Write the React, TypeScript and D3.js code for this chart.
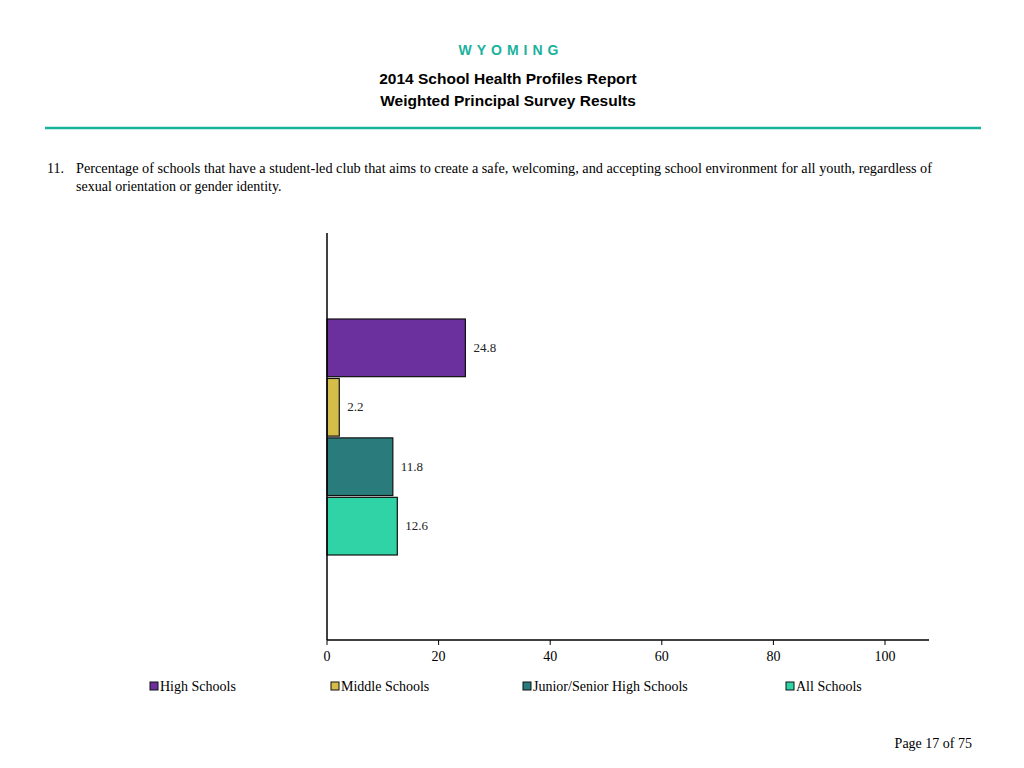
import React from "react";
import * as d3 from "d3";

const categories = ["High Schools", "Middle Schools", "Junior/Senior High Schools", "All Schools"];
const values = [24.8, 2.2, 11.8, 12.6];
const colors = ["#6b2f9e", "#d4bd48", "#2a7b7b", "#2fd3a6"];
const ticks = [0, 20, 40, 60, 80, 100];
const legendX = [150, 331, 523, 786];

export default function App() {
  const x = d3.scaleLinear().domain([0, 100]).range([327, 885]);
  const y = d3.scaleBand<string>().domain(categories).range([319, 555]).paddingInner(0.03);
  const serif = "'Liberation Serif', 'Times New Roman', serif";
  const sans = "'Liberation Sans', Arial, sans-serif";
  return (
    <svg width={1024} height={768} style={{ position: "absolute", left: 0, top: 0, background: "#fff" }}>
      <text x={511} y={55} textAnchor="middle" fill="#19b29c" fontFamily={sans} fontWeight="bold" fontSize={14} letterSpacing={5}>WYOMING</text>
      <text x={508} y={84} textAnchor="middle" fontFamily={sans} fontWeight="bold" fontSize={15.5}>2014 School Health Profiles Report</text>
      <text x={508} y={106} textAnchor="middle" fontFamily={sans} fontWeight="bold" fontSize={15.5}>Weighted Principal Survey Results</text>
      <line x1={45} x2={981} y1={128} y2={128} stroke="#19b29c" strokeWidth={2.5} />
      <text x={47} y={173} fontFamily={serif} fontSize={14}>11.</text>
      <text x={76} y={173} fontFamily={serif} fontSize={14} textLength={856} lengthAdjust="spacingAndGlyphs">Percentage of schools that have a student-led club that aims to create a safe, welcoming, and accepting school environment for all youth, regardless of</text>
      <text x={76} y={191} fontFamily={serif} fontSize={14}>sexual orientation or gender identity.</text>

      {categories.map((c, i) => (
        <g key={c}>
          <rect x={x(0)} y={y(c)!} width={x(values[i]) - x(0)} height={y.bandwidth()} fill={colors[i]} stroke="#111" strokeWidth={1.2} />
          <text x={x(values[i]) + 8} y={y(c)! + y.bandwidth() / 2 + 4} fontFamily={serif} fontSize={13} fill="#222">{values[i]}</text>
        </g>
      ))}

      <line x1={327} x2={327} y1={233} y2={640} stroke="#000" strokeWidth={1.5} />
      <line x1={327} x2={929} y1={640} y2={640} stroke="#000" strokeWidth={1.5} />
      {ticks.map((t) => (
        <g key={t}>
          <line x1={x(t)} x2={x(t)} y1={640} y2={645} stroke="#000" />
          <text x={x(t)} y={661} textAnchor="middle" fontFamily={serif} fontSize={14}>{t}</text>
        </g>
      ))}

      {categories.map((c, i) => (
        <g key={"l" + c}>
          <rect x={legendX[i]} y={682} width={8} height={8} fill={colors[i]} stroke="#111" strokeWidth={1} />
          <text x={legendX[i] + 10} y={691} fontFamily={serif} fontSize={14}>{c}</text>
        </g>
      ))}

      <text x={972} y={748} textAnchor="end" fontFamily={serif} fontSize={14}>Page 17 of 75</text>
    </svg>
  );
}
